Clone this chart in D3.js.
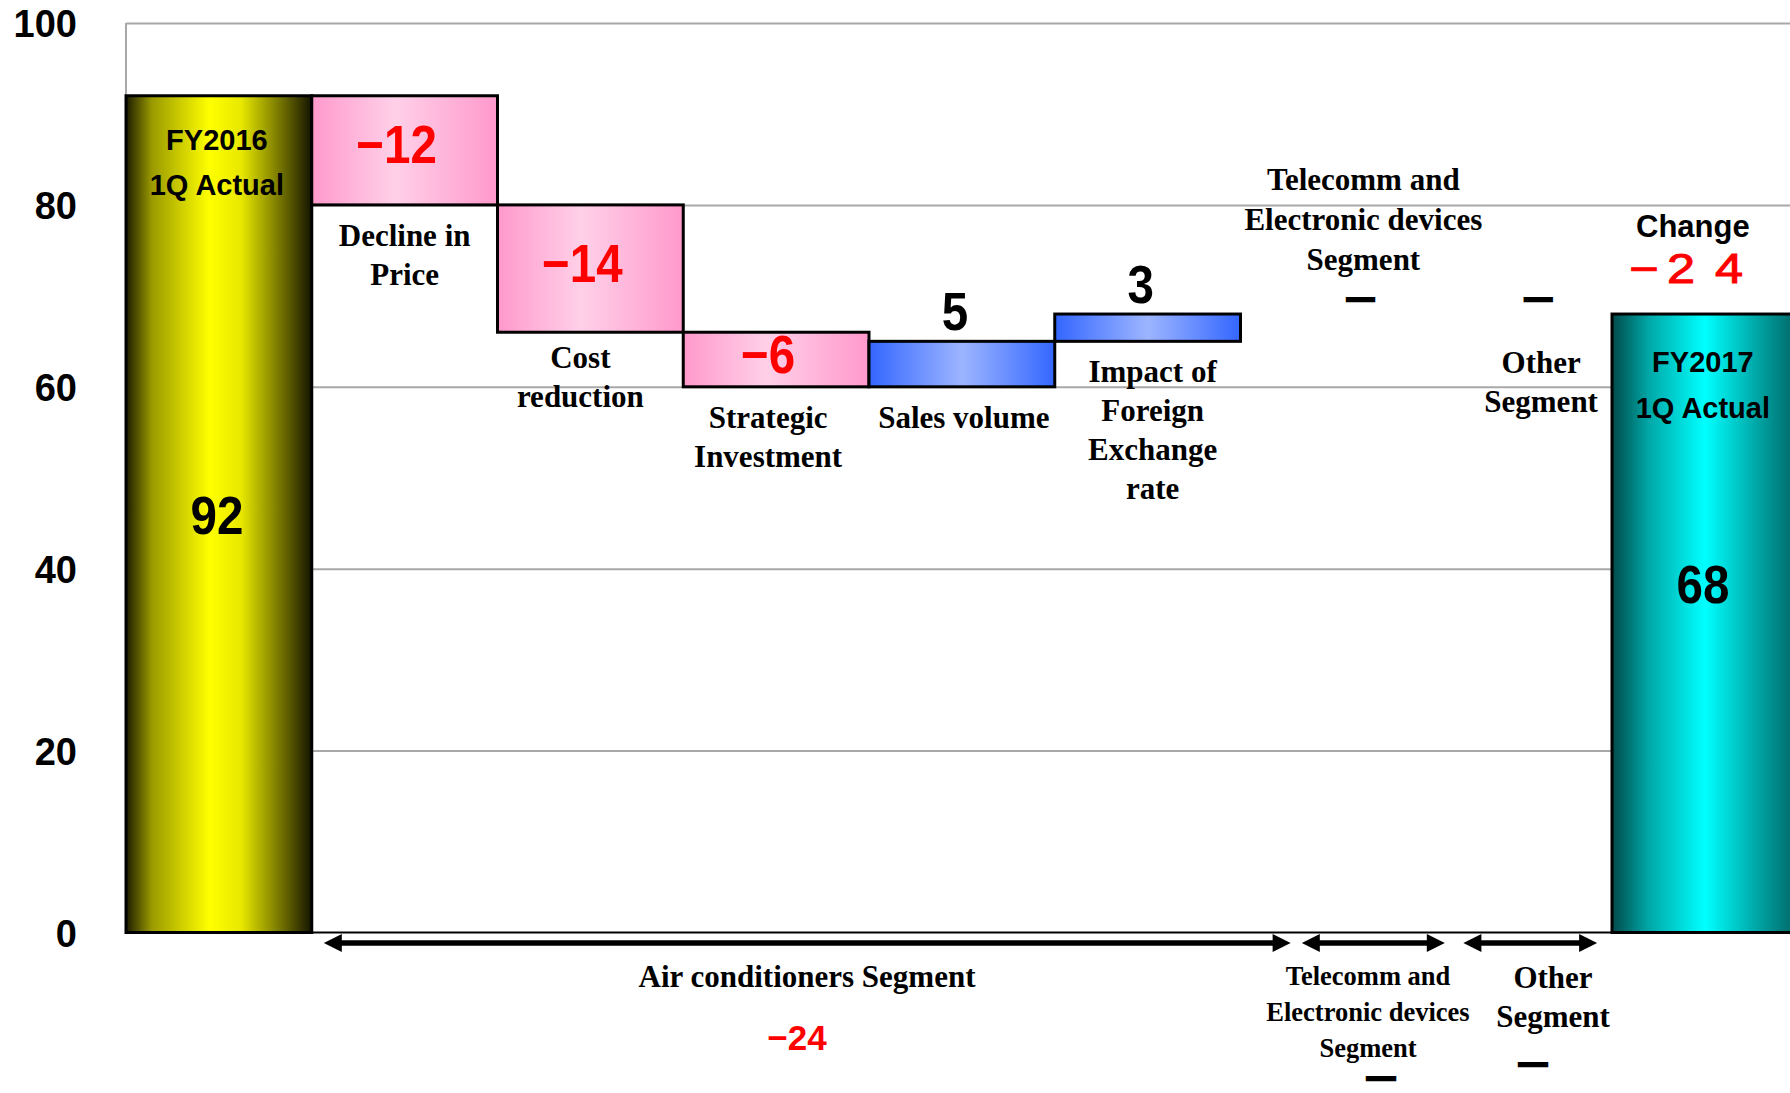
<!DOCTYPE html>
<html>
<head>
<meta charset="utf-8">
<script src="https://cdn.jsdelivr.net/npm/d3@7"></script>
<style>
  html, body { margin: 0; padding: 0; background: #ffffff; overflow: hidden; }
  svg { display: block; }
</style>
</head>
<body>
<svg id="chart" width="1790" height="1093"></svg>
<script>
// ---- Data -------------------------------------------------------------
const categories = [
  "FY2016 1Q Actual",
  "Decline in Price",
  "Cost reduction",
  "Strategic Investment",
  "Sales volume",
  "Impact of Foreign Exchange rate",
  "Telecomm and Electronic devices Segment",
  "Other Segment",
  "FY2017 1Q Actual"
];
const values  = [92, -12, -14, -6, 5, 3, 0, 0, 68];
const isTotal = [true, false, false, false, false, false, false, false, true];

const totalTitles = [["FY2016", "1Q Actual"], null, null, null, null, null, null, null, ["FY2017", "1Q Actual"]];
const categoryLines = [
  [],
  ["Decline in", "Price"],
  ["Cost", "reduction"],
  ["Strategic", "Investment"],
  ["Sales volume"],
  ["Impact of", "Foreign", "Exchange", "rate"],
  ["Telecomm and", "Electronic devices", "Segment"],
  ["Other", "Segment"],
  []
];

const yTicks = [0, 20, 40, 60, 80, 100];

const segmentLines  = [["Air conditioners Segment"], ["Telecomm and", "Electronic devices", "Segment"], ["Other", "Segment"]];
const segmentChange = [-24, 0, 0];
const segmentFirst  = [1, 6, 7];
const segmentLast   = [5, 6, 7];

const changeTitle = "Change";
const changeTotal = -24;

// ---- Helpers ----------------------------------------------------------
const MINUS = "\u2212";
const fmtDelta = v => v === 0 ? "\u2014" : (v < 0 ? MINUS + Math.abs(v) : String(v));

// ---- Layout -----------------------------------------------------------
const W = 1790, H = 1093;
const plotLeft = 126, bandW = 185.75;
const svg = d3.select("#chart");

const x = d3.scaleBand()
  .domain(categories)
  .range([plotLeft, plotLeft + bandW * categories.length])
  .padding(0);
const y = d3.scaleLinear().domain([0, 100]).range([932.5, 23]);

// Waterfall extents
let running = 0;
const bars = categories.map((c, i) => {
  let from, to;
  if (isTotal[i]) { from = 0; to = values[i]; running = values[i]; }
  else { from = running; to = running + values[i]; running = to; }
  return { c, i, v: values[i], from, to, lo: Math.min(from, to), hi: Math.max(from, to) };
});

// ---- Gradients --------------------------------------------------------
const defs = svg.append("defs");
function hGrad(id, stops) {
  const g = defs.append("linearGradient").attr("id", id)
    .attr("x1", "0%").attr("x2", "100%").attr("y1", "0%").attr("y2", "0%");
  stops.forEach(([o, col]) => g.append("stop").attr("offset", o).attr("stop-color", col));
}
hGrad("gYellow", [[0, "#1c1c00"], [0.14, "#9a9a00"], [0.45, "#ffff00"], [0.62, "#e8e800"], [0.85, "#6a6a00"], [1, "#141400"]]);
hGrad("gCyan",   [[0, "#004a4a"], [0.2, "#00a8a8"], [0.5, "#00ffff"], [0.8, "#00a0a0"], [1, "#006464"]]);
hGrad("gPink",   [[0, "#ff99cc"], [0.45, "#ffd0e8"], [1, "#ff99cc"]]);
hGrad("gBlue",   [[0, "#3366ff"], [0.5, "#9db5ff"], [1, "#3366ff"]]);

// ---- Grid & axes ------------------------------------------------------
const grid = svg.append("g")
  .attr("transform", `translate(${plotLeft},0)`)
  .call(d3.axisLeft(y).tickValues(yTicks.filter(t => t > 0)).tickSize(-(W - plotLeft)).tickFormat(""));
grid.select(".domain").remove();
grid.selectAll(".tick line").attr("stroke", "#a8a8a8").attr("stroke-width", 2);

svg.append("line")
  .attr("x1", plotLeft).attr("x2", plotLeft)
  .attr("y1", y(100)).attr("y2", y(0))
  .attr("stroke", "#a8a8a8").attr("stroke-width", 2);

const yAxis = svg.append("g")
  .attr("transform", `translate(${plotLeft},0)`)
  .call(d3.axisLeft(y).tickValues(yTicks).tickSize(0).tickPadding(49));
yAxis.select(".domain").remove();
yAxis.selectAll(".tick text")
  .attr("font-family", "'Liberation Sans', Arial, sans-serif")
  .attr("font-weight", "bold")
  .attr("font-size", 38)
  .attr("fill", "#000")
  .attr("dy", "0.36em");

// ---- Bars -------------------------------------------------------------
const fillFor = b => b.i === 0 ? "url(#gYellow)" : (isTotal[b.i] ? "url(#gCyan)" : (b.v < 0 ? "url(#gPink)" : "url(#gBlue)"));

svg.append("g").selectAll("rect")
  .data(bars.filter(b => b.v !== 0))
  .join("rect")
  .attr("x", b => x(b.c))
  .attr("width", x.bandwidth())
  .attr("y", b => y(b.hi))
  .attr("height", b => y(b.lo) - y(b.hi))
  .attr("fill", fillFor)
  .attr("stroke", "#000")
  .attr("stroke-width", 3);

// Zero line
svg.append("line")
  .attr("x1", plotLeft).attr("x2", W)
  .attr("y1", y(0)).attr("y2", y(0))
  .attr("stroke", "#000").attr("stroke-width", 2);

// ---- Text -------------------------------------------------------------
const SANS = "'Liberation Sans', Arial, sans-serif";
const SERIF = "'Liberation Serif', 'Times New Roman', serif";
const labels = svg.append("g");
const cx = b => x(b.c) + x.bandwidth() / 2;

// Condensed numeral text helper
function numText(px, py, txt, size, color) {
  labels.append("text")
    .attr("transform", `translate(${px},${py}) scale(0.88,1)`)
    .attr("text-anchor", "middle")
    .attr("font-family", SANS).attr("font-weight", "bold")
    .attr("font-size", size).attr("fill", color)
    .text(txt);
}
function dash(px, py, size) {
  labels.append("text")
    .attr("x", px).attr("y", py + size * 0.27)
    .attr("text-anchor", "middle")
    .attr("font-family", SANS).attr("font-weight", "bold")
    .attr("font-size", size).attr("fill", "#000")
    .attr("stroke", "#000").attr("stroke-width", 2.4)
    .text("\u2014");
}
function lines(px, firstBaseline, arr, size, gap) {
  const t = labels.append("text")
    .attr("text-anchor", "middle")
    .attr("font-family", SERIF).attr("font-weight", "bold")
    .attr("font-size", size).attr("fill", "#000");
  arr.forEach((s, k) => t.append("tspan").attr("x", px).attr("y", firstBaseline + k * gap).text(s));
}

// Totals: titles and values inside the bars
const totalValuePos = { 0: 0.524, 8: 0.467 };
const totalTitleOffset = { 0: 54, 8: 58 };
bars.filter(b => isTotal[b.i]).forEach(b => {
  const px = cx(b) - 2;
  const t = labels.append("text")
    .attr("text-anchor", "middle")
    .attr("font-family", SANS).attr("font-weight", "bold")
    .attr("font-size", 29).attr("fill", "#000");
  totalTitles[b.i].forEach((s, k) =>
    t.append("tspan").attr("x", px).attr("y", y(b.hi) + totalTitleOffset[b.i] + k * 45.5).text(s));
  const vy = y(b.hi) + (y(0) - y(b.hi)) * totalValuePos[b.i];
  numText(px, vy, String(b.v), 54, "#000");
});

// Deltas: values and category labels
const LINE = 39;
const labelShiftX = { 1: 0, 2: -10, 3: -8, 4: 2, 5: 5, 6: 29, 7: 21 };
const labelShiftY = { 2: -5 };
bars.filter(b => !isTotal[b.i]).forEach(b => {
  const px = cx(b);
  const lx = px + (labelShiftX[b.i] || 0);
  const ly = labelShiftY[b.i] || 0;
  if (b.v < 0) {
    const mid = (y(b.hi) + y(b.lo)) / 2;
    numText(px - 8, mid + 13, fmtDelta(b.v), 54, "#ff0000");
    lines(lx, y(b.lo) + 41 + ly, categoryLines[b.i], 31, LINE);
  } else if (b.v > 0) {
    numText(px - 7, y(b.hi) - 11, fmtDelta(b.v), 54, "#000");
    lines(lx, y(b.lo) + 41 + ly, categoryLines[b.i], 31, LINE);
  } else {
    const dy = y(b.hi) - 14;
    dash(lx - 2, dy, 27);
    if (b.i === 6) {
      const n = categoryLines[b.i].length;
      lines(lx + 1, dy - 30 - (n - 1) * 40, categoryLines[b.i], 31, 40);
    } else {
      lines(lx + 1, dy + 73, categoryLines[b.i], 31, LINE);
    }
  }
});

// Overall change above the final bar
const endBar = bars[bars.length - 1];
labels.append("text")
  .attr("x", cx(endBar) - 12).attr("y", 237)
  .attr("text-anchor", "middle")
  .attr("font-family", SANS).attr("font-weight", "bold")
  .attr("font-size", 31).attr("fill", "#000")
  .text(changeTitle);

// Wide, spaced glyphs for the total change ("−2 4")
const changeChars = [MINUS, ...String(Math.abs(changeTotal))];
const changeCenters = [1644, 1681, 1729];
const wide = 1.2;
const ct = labels.append("text")
  .attr("transform", `translate(0,283) scale(${wide},1)`)
  .attr("text-anchor", "middle")
  .attr("font-family", SANS).attr("font-weight", "normal")
  .attr("font-size", 42).attr("fill", "#ff0000")
  .attr("stroke", "#ff0000").attr("stroke-width", 1);
changeChars.forEach((ch, k) =>
  ct.append("tspan").attr("x", changeCenters[k] / wide).text(ch));

// ---- Segment brackets under the axis ----------------------------------
const arrowY = 943;
const segStart = [0.065, 0.33, 0.2];
const segEnd   = [1.27, 1.1, 0.92];
const arrows = svg.append("g");
segmentLines.forEach((seg, s) => {
  const x0 = x(categories[segmentFirst[s]]) + segStart[s] * bandW;
  const x1 = x(categories[segmentLast[s]]) + segEnd[s] * bandW;
  const head = 18, half = 9;
  arrows.append("line")
    .attr("x1", x0 + head - 2).attr("x2", x1 - head + 2)
    .attr("y1", arrowY).attr("y2", arrowY)
    .attr("stroke", "#000").attr("stroke-width", 5.5);
  arrows.append("path")
    .attr("d", `M${x0},${arrowY} L${x0 + head},${arrowY - half} L${x0 + head},${arrowY + half} Z`)
    .attr("fill", "#000");
  arrows.append("path")
    .attr("d", `M${x1},${arrowY} L${x1 - head},${arrowY - half} L${x1 - head},${arrowY + half} Z`)
    .attr("fill", "#000");
});

// Segment names and their change
// Air conditioners
lines(807, 987, segmentLines[0], 31, 39);
labels.append("text")
  .attr("x", 797).attr("y", 1050)
  .attr("text-anchor", "middle")
  .attr("font-family", SANS).attr("font-weight", "bold")
  .attr("font-size", 35).attr("fill", "#ff0000")
  .text(fmtDelta(segmentChange[0]));
// Telecomm and Electronic devices
lines(1368, 985, segmentLines[1], 26.5, 36);
dash(1381, 1078, 28);
// Other
lines(1553, 988, segmentLines[2], 31, 39);
dash(1533, 1064, 28);
</script>
</body>
</html>
